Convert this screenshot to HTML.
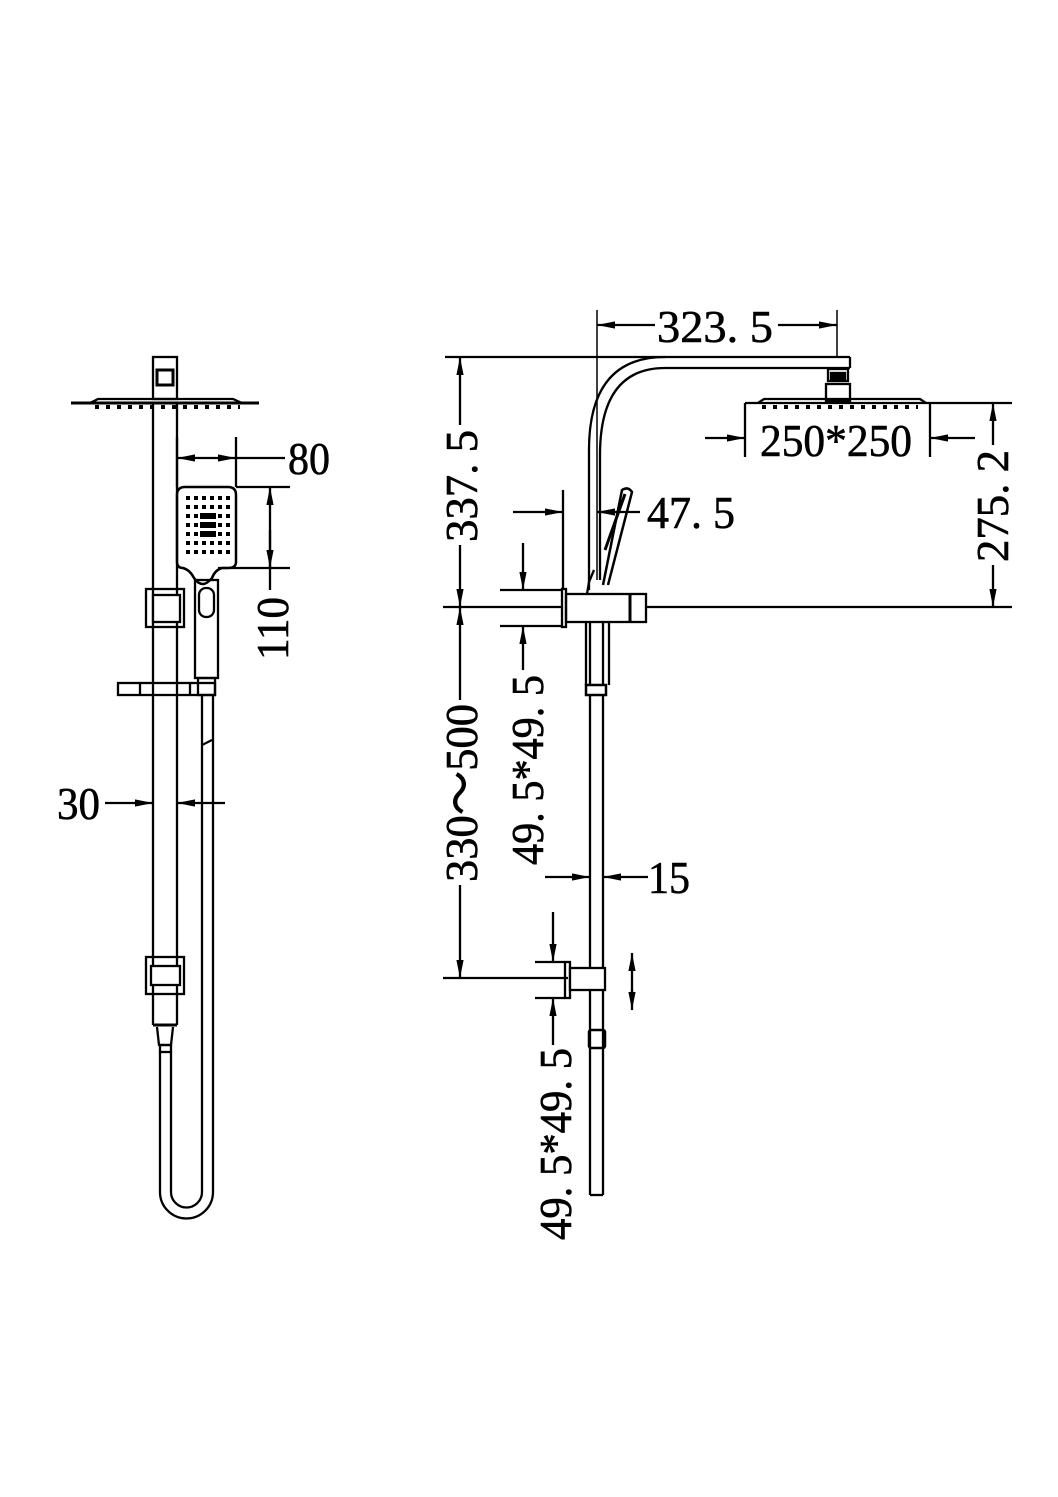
<!DOCTYPE html>
<html><head><meta charset="utf-8"><style>
html,body{margin:0;padding:0;background:#fff;}
svg{display:block;}
text{font-family:"Liberation Serif",serif;font-size:46px;fill:#000;stroke:#000;stroke-width:0.6;}
</style></head><body>
<svg width="1058" height="1497" viewBox="0 0 1058 1497" xmlns="http://www.w3.org/2000/svg">
<defs>
<marker id="a" viewBox="0 0 10 4" refX="10" refY="2" markerWidth="18" markerHeight="8" markerUnits="userSpaceOnUse" orient="auto-start-reverse"><path d="M0,0L10,2L0,4z" fill="#000"/></marker>
</defs>
<g stroke="#000" stroke-width="2.3" fill="none">
<!-- LEFT VIEW -->
<rect x="153" y="357" width="24" height="42"/>
<rect x="157" y="370" width="16" height="15" stroke-width="3"/>
<line x1="71" y1="403" x2="259" y2="403" stroke-width="3"/>
<path d="M90,403 L98,399 L233,399 L242,403"/>
<line x1="95" y1="407" x2="240" y2="407" stroke-width="4" stroke-dasharray="4,7"/>
<line x1="153" y1="403" x2="153" y2="1025"/>
<line x1="177" y1="403" x2="177" y2="1025"/>
<rect x="146" y="589" width="38" height="38"/>
<rect x="153" y="595" width="27" height="27" fill="#fff"/>
<rect x="118" y="683" width="97" height="12"/>
<line x1="140" y1="683" x2="140" y2="695"/>
<line x1="190" y1="683" x2="190" y2="695"/>
<path d="M177,495 Q177,487 185,487 L228,487 Q236,487 236,495 L236,562 Q236,568 228,568 L222,568 Q215,570 212,578 Q207,584 203,584 Q198,584 194,578 Q190,570 183,568 Q177,568 177,562 Z" stroke-width="2.5"/>
<rect x="195" y="580" width="23" height="98"/>
<rect x="199" y="588" width="15" height="29" rx="7"/>
<rect x="198" y="678" width="17" height="17"/>
<line x1="202" y1="695" x2="202" y2="1192"/>
<line x1="213" y1="695" x2="213" y2="1192"/>
<path d="M202,1192 A15.5,15.5 0 0 1 171,1192 L171,1052"/>
<path d="M213,1192 A26.5,26.5 0 0 1 160,1192 L160,1052"/>
<line x1="202" y1="745" x2="212" y2="740"/>
<rect x="146" y="957" width="38" height="37"/>
<rect x="151" y="966" width="29" height="19" fill="#fff"/>
<line x1="153" y1="1025" x2="177" y2="1025" stroke-width="3"/>
<path d="M157,1027 L159,1045 L171,1045 L173,1027"/>
<rect x="160" y="1045" width="11" height="7"/>
<line x1="177" y1="437" x2="177" y2="487"/>
<line x1="236" y1="437" x2="236" y2="487"/>
<line x1="177" y1="458" x2="207" y2="458" marker-start="url(#a)"/>
<line x1="207" y1="458" x2="236" y2="458" marker-end="url(#a)"/>
<line x1="236" y1="458" x2="285" y2="458"/>
<line x1="236" y1="487" x2="290" y2="487"/>
<line x1="218" y1="568" x2="290" y2="568"/>
<line x1="270" y1="487" x2="270" y2="590" marker-start="url(#a)"/>
<line x1="270" y1="530" x2="270" y2="568" marker-end="url(#a)"/>
<line x1="105" y1="803" x2="153" y2="803" marker-end="url(#a)"/>
<line x1="225" y1="803" x2="177" y2="803" marker-end="url(#a)"/>

<!-- RIGHT VIEW -->
<line x1="597" y1="310" x2="597" y2="580" stroke-width="1.5"/>
<line x1="837" y1="310" x2="837" y2="357" stroke-width="1.5"/>
<line x1="597" y1="325" x2="655" y2="325" marker-start="url(#a)"/>
<line x1="778" y1="325" x2="837" y2="325" marker-end="url(#a)"/>
<line x1="445" y1="357" x2="850" y2="357"/>
<line x1="665" y1="368" x2="850" y2="368"/>
<line x1="850" y1="357" x2="850" y2="368"/>
<path d="M589,590 L589,450 Q589,357 665,357"/>
<path d="M600,580 L600,455 Q600,368 665,368"/>
<rect x="828" y="369" width="20" height="12"/>
<rect x="831" y="373" width="14" height="6" fill="#000"/>
<rect x="826" y="384" width="24" height="17"/>
<line x1="745" y1="403" x2="1012" y2="403"/>
<path d="M758,403 L764,399 L920,399 L926,403"/>
<line x1="762" y1="407" x2="918" y2="407" stroke-width="4" stroke-dasharray="4,7"/>
<line x1="745" y1="403" x2="745" y2="457"/>
<line x1="930" y1="403" x2="930" y2="457"/>
<line x1="705" y1="438" x2="745" y2="438" marker-end="url(#a)"/>
<line x1="975" y1="438" x2="930" y2="438" marker-end="url(#a)"/>
<line x1="993" y1="445" x2="993" y2="403" marker-end="url(#a)"/>
<line x1="993" y1="565" x2="993" y2="607" marker-end="url(#a)"/>
<line x1="645" y1="607" x2="1012" y2="607"/>
<line x1="443" y1="607" x2="563" y2="607"/>
<line x1="460" y1="425" x2="460" y2="357" marker-end="url(#a)"/>
<line x1="460" y1="545" x2="460" y2="607" marker-end="url(#a)"/>
<line x1="460" y1="607" x2="460" y2="700" marker-start="url(#a)"/>
<line x1="460" y1="885" x2="460" y2="978" marker-end="url(#a)"/>
<line x1="443" y1="978" x2="568" y2="978"/>
<line x1="563" y1="490" x2="563" y2="589"/>
<line x1="513" y1="512" x2="563" y2="512" marker-end="url(#a)"/>
<line x1="640" y1="512" x2="597" y2="512" marker-end="url(#a)"/>
<rect x="562" y="589" width="4" height="38"/>
<rect x="566" y="594" width="80" height="28"/>
<line x1="630" y1="594" x2="630" y2="622" stroke-width="3"/>
<line x1="500" y1="590" x2="562" y2="590"/>
<line x1="500" y1="626" x2="562" y2="626"/>
<line x1="523" y1="543" x2="523" y2="590" marker-end="url(#a)"/>
<line x1="523" y1="670" x2="523" y2="626" marker-end="url(#a)"/>
<path d="M603,585 L622,490 Q628,486 632,492 L608,585" stroke-width="2.5"/>
<line x1="605" y1="550" x2="625" y2="494" stroke-width="3"/>
<path d="M587,594 L589,582 L594,570"/>
<line x1="586" y1="622" x2="586" y2="685"/>
<line x1="609" y1="622" x2="609" y2="685"/>
<line x1="590" y1="622" x2="590" y2="685"/>
<line x1="603" y1="622" x2="603" y2="685"/>
<rect x="586" y="685" width="20" height="10" stroke-width="2.5"/>
<line x1="590" y1="695" x2="590" y2="1195"/>
<line x1="603" y1="695" x2="603" y2="1195"/>
<line x1="590" y1="1195" x2="603" y2="1195"/>
<line x1="545" y1="877" x2="590" y2="877" marker-end="url(#a)"/>
<line x1="648" y1="877" x2="603" y2="877" marker-end="url(#a)"/>
<rect x="565" y="962" width="5" height="36"/>
<rect x="570" y="968" width="35" height="22" fill="#fff"/>
<line x1="535" y1="962" x2="565" y2="962"/>
<line x1="535" y1="998" x2="565" y2="998"/>
<line x1="553" y1="912" x2="553" y2="962" marker-end="url(#a)"/>
<line x1="553" y1="1045" x2="553" y2="998" marker-end="url(#a)"/>
<line x1="632" y1="970" x2="632" y2="953" marker-end="url(#a)"/>
<line x1="632" y1="990" x2="632" y2="1010" marker-end="url(#a)"/>
<line x1="632" y1="968" x2="632" y2="992"/>
<rect x="589" y="1030" width="16" height="18" rx="2" stroke-width="2.5"/>
</g>
<text x="288" y="474" textLength="42" lengthAdjust="spacingAndGlyphs">80</text>
<text transform="translate(288,660) rotate(-90)" textLength="63" lengthAdjust="spacingAndGlyphs">110</text>
<text x="57" y="819" textLength="43" lengthAdjust="spacingAndGlyphs">30</text>
<text x="657" y="342" textLength="116" lengthAdjust="spacingAndGlyphs">323. 5</text>
<text x="760" y="456" textLength="152" lengthAdjust="spacingAndGlyphs">250*250</text>
<text x="647" y="528" textLength="88" lengthAdjust="spacingAndGlyphs">47. 5</text>
<text x="648" y="893" textLength="42" lengthAdjust="spacingAndGlyphs">15</text>
<text transform="translate(477,542) rotate(-90)" textLength="112" lengthAdjust="spacingAndGlyphs">337. 5</text>
<text transform="translate(477,882) rotate(-90)" textLength="178" lengthAdjust="spacingAndGlyphs">330～500</text>
<text transform="translate(1008,562) rotate(-90)" textLength="112" lengthAdjust="spacingAndGlyphs">275. 2</text>
<text transform="translate(543,865) rotate(-90)" textLength="190" lengthAdjust="spacingAndGlyphs">49. 5*49. 5</text>
<text transform="translate(571,1240) rotate(-90)" textLength="192" lengthAdjust="spacingAndGlyphs">49. 5*49. 5</text>
<g fill="#000">
<rect x="186" y="496" width="4" height="4"/><rect x="194" y="496" width="4" height="4"/><rect x="202" y="496" width="4" height="4"/><rect x="210" y="496" width="4" height="4"/><rect x="218" y="496" width="4" height="4"/><rect x="226" y="496" width="4" height="4"/>
<rect x="186" y="505" width="4" height="4"/><rect x="194" y="505" width="4" height="4"/><rect x="202" y="505" width="4" height="4"/><rect x="210" y="505" width="4" height="4"/><rect x="218" y="505" width="4" height="4"/><rect x="226" y="505" width="4" height="4"/>
<rect x="186" y="514" width="4" height="4"/><rect x="194" y="514" width="4" height="4"/><rect x="200" y="513" width="16" height="6"/><rect x="218" y="514" width="4" height="4"/><rect x="226" y="514" width="4" height="4"/>
<rect x="186" y="523" width="4" height="4"/><rect x="194" y="523" width="4" height="4"/><rect x="200" y="522" width="16" height="6"/><rect x="218" y="523" width="4" height="4"/><rect x="226" y="523" width="4" height="4"/>
<rect x="186" y="532" width="4" height="4"/><rect x="194" y="532" width="4" height="4"/><rect x="200" y="531" width="16" height="6"/><rect x="218" y="532" width="4" height="4"/><rect x="226" y="532" width="4" height="4"/>
<rect x="186" y="541" width="4" height="4"/><rect x="194" y="541" width="4" height="4"/><rect x="202" y="541" width="4" height="4"/><rect x="210" y="541" width="4" height="4"/><rect x="218" y="541" width="4" height="4"/><rect x="226" y="541" width="4" height="4"/>
<rect x="186" y="550" width="4" height="4"/><rect x="194" y="550" width="4" height="4"/><rect x="202" y="550" width="4" height="4"/><rect x="210" y="550" width="4" height="4"/><rect x="218" y="550" width="4" height="4"/><rect x="226" y="550" width="4" height="4"/>
</g>
</svg>
</body></html>
